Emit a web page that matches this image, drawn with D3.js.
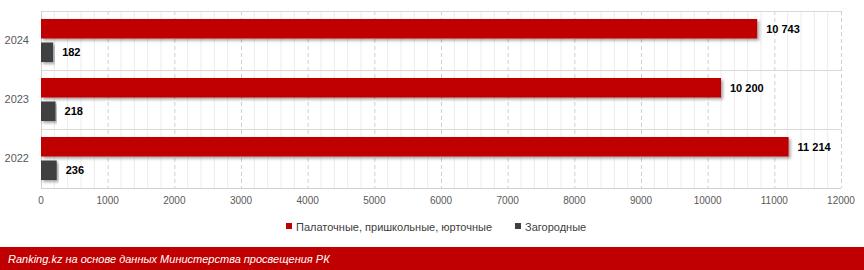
<!DOCTYPE html>
<html lang="ru">
<head>
    <meta charset="UTF-8">
    <title>Лагеря</title>
    <script src="https://d3js.org/d3.v7.min.js"></script>
    <style>
        body { margin: 0; background: #fff; }
        svg { display: block; font-family: "Liberation Sans", Arial, sans-serif; }
        .tick-label { font-size: 10px; fill: #595959; }
        .year-label { font-size: 11px; fill: #595959; }
        .value-label { font-size: 11px; font-weight: bold; fill: #000; }
        .legend-text { font-size: 11px; fill: #404040; }
        .footer-text { font-size: 11px; font-style: italic; fill: #fff; }
    </style>
</head>
<body>
<svg id="chart"></svg>
<script>
    const years = ["2024", "2023", "2022"];
    const seriesNames = ["Палаточные, пришкольные, юрточные", "Загородные"];
    const tentValues = [10743, 10200, 11214];
    const countryValues = [182, 218, 236];
    const xTicks = [0, 1000, 2000, 3000, 4000, 5000, 6000, 7000, 8000, 9000, 10000, 11000, 12000];
    const colors = ["#C00000", "#404040"];

    const width = 864, height = 270;
    const margin = { top: 11, left: 41, right: 23, bottom: 82 };
    const svg = d3.select("#chart").attr("width", width).attr("height", height);

    const defs = svg.append("defs");
    const f = defs.append("filter").attr("id", "shadow")
        .attr("x", "-5%").attr("y", "-30%").attr("width", "115%").attr("height", "180%");
    f.append("feDropShadow").attr("dx", 2).attr("dy", 2).attr("stdDeviation", 1.5)
        .attr("flood-color", "#000").attr("flood-opacity", 0.35);

    const x = d3.scaleLinear().domain([0, 12000]).range([margin.left, width - margin.right]);
    const y = d3.scaleBand().domain(years).range([margin.top, height - margin.bottom]);
    const sub = d3.scaleBand().domain([0, 1]).range([0, y.bandwidth()])
        .paddingInner(0.17).paddingOuter(0.34);

    // minor grid
    const minor = d3.range(0, 12001, 200).filter(v => v % 1000 !== 0);
    svg.append("g").selectAll("line").data(minor).enter().append("line")
        .attr("x1", d => x(d)).attr("x2", d => x(d))
        .attr("y1", margin.top).attr("y2", height - margin.bottom)
        .attr("stroke", "#ececec").attr("stroke-width", 1);

    // major grid (dashed)
    svg.append("g").selectAll("line").data(xTicks.slice(1)).enter().append("line")
        .attr("x1", d => x(d) + 0.5).attr("x2", d => x(d) + 0.5)
        .attr("y1", margin.top).attr("y2", height - margin.bottom)
        .attr("stroke", "#d0d0d0").attr("stroke-dasharray", "4,3");

    // horizontal category borders
    svg.append("g").selectAll("line").data(years).enter().append("line")
        .attr("x1", margin.left).attr("x2", width - margin.right)
        .attr("y1", d => y(d) + 0.5).attr("y2", d => y(d) + 0.5)
        .attr("stroke", "#d9d9d9");

    // axes lines
    svg.append("line")
        .attr("x1", margin.left).attr("x2", width - margin.right)
        .attr("y1", height - margin.bottom + 0.5).attr("y2", height - margin.bottom + 0.5)
        .attr("stroke", "#d0d0d0");
    svg.append("line")
        .attr("x1", margin.left + 0.5).attr("x2", margin.left + 0.5)
        .attr("y1", margin.top).attr("y2", height - margin.bottom)
        .attr("stroke", "#d0d0d0");

    const series = [tentValues, countryValues];
    series.forEach((vals, si) => {
        svg.append("g").selectAll("rect").data(years).enter().append("rect")
            .attr("x", x(0))
            .attr("y", d => y(d) + sub(si))
            .attr("width", (d, i) => x(vals[i]) - x(0))
            .attr("height", sub.bandwidth())
            .attr("fill", colors[si])
            .attr("filter", "url(#shadow)");
        svg.append("g").selectAll("text").data(years).enter().append("text")
            .attr("class", "value-label")
            .attr("x", (d, i) => x(vals[i]) + 9)
            .attr("y", d => y(d) + sub(si) + sub.bandwidth() / 2)
            .attr("dy", "0.35em")
            .text((d, i) => d3.format(",")(vals[i]).replace(/,/g, " "));
    });

    // year labels
    svg.append("g").selectAll("text").data(years).enter().append("text")
        .attr("class", "year-label")
        .attr("x", 29).attr("y", d => y(d) + y.bandwidth() / 2)
        .attr("dy", "0.35em").attr("text-anchor", "end")
        .text(d => d);

    // x tick labels
    svg.append("g").selectAll("text").data(xTicks).enter().append("text")
        .attr("class", "tick-label")
        .attr("x", d => x(d)).attr("y", 200).attr("dy", "0.35em")
        .attr("text-anchor", "middle")
        .text(d => d);

    // legend
    const legendX = [286, 515];
    seriesNames.forEach((name, i) => {
        svg.append("rect").attr("x", legendX[i]).attr("y", 223)
            .attr("width", 6).attr("height", 6).attr("fill", colors[i]);
        svg.append("text").attr("class", "legend-text")
            .attr("x", legendX[i] + 10).attr("y", 227).attr("dy", "0.35em")
            .text(name);
    });

    // footer
    svg.append("rect").attr("x", 0).attr("y", 247).attr("width", width).attr("height", 23)
        .attr("fill", "#C00000");
    svg.append("text").attr("class", "footer-text")
        .attr("x", 8).attr("y", 259).attr("dy", "0.35em")
        .text("Ranking.kz на основе данных Министерства просвещения РК");
</script>
</body>
</html>
